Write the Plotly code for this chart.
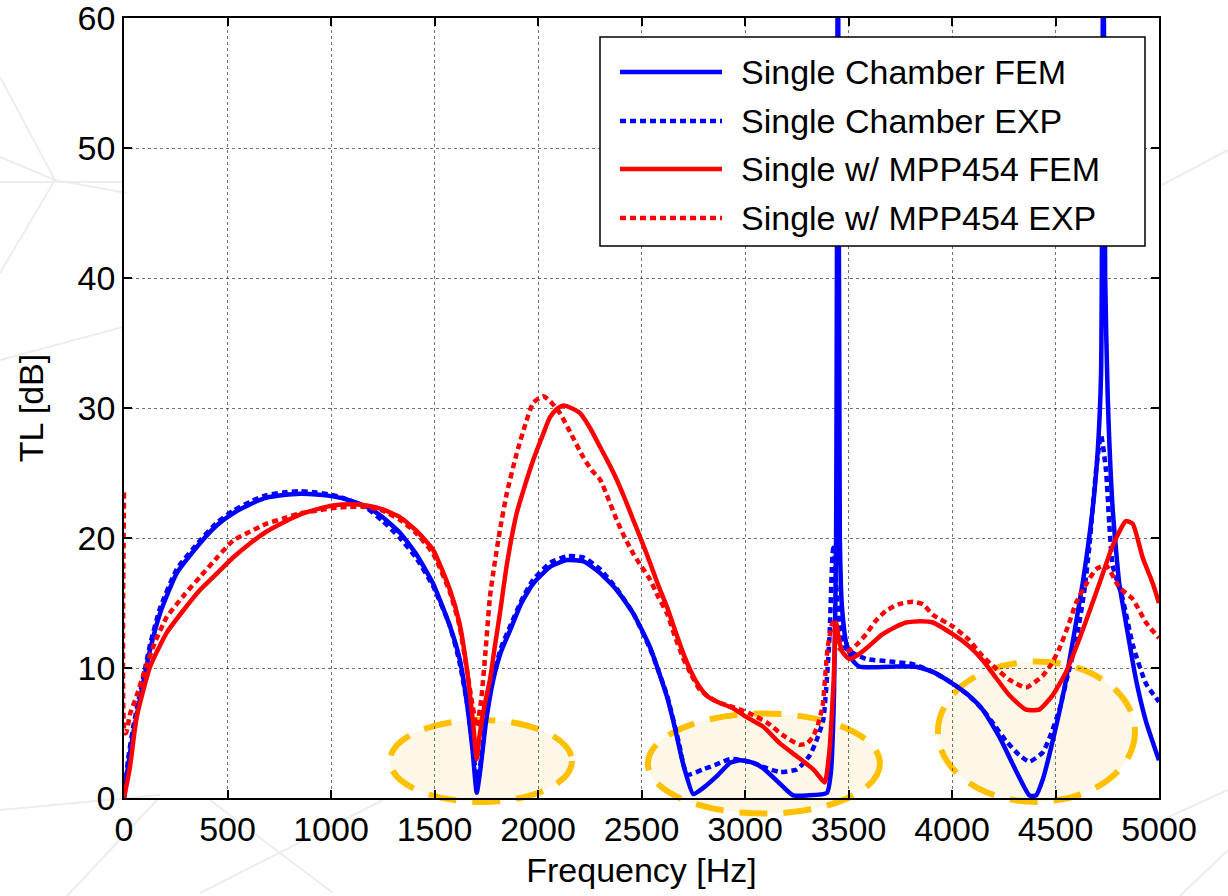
import plotly.graph_objects as go

# ---------------- data ----------------
sc_fem_f = [0, 20, 45, 92, 126, 174, 255, 367, 450, 527, 610, 689, 770, 850, 930, 1010, 1090, 1172, 1250, 1333, 1410,
            1493, 1575, 1620, 1655, 1685, 1704, 1720, 1750, 1784, 1820, 1865, 1920, 1977, 2060, 2140, 2220, 2300,
            2380, 2460, 2541, 2623, 2660, 2700, 2750, 2800, 2865, 2928, 2976, 3040, 3087, 3169, 3232, 3300, 3396,
            3415, 3430, 3440, 3449, 3458, 3464, 3472, 3488, 3520, 3552, 3700, 3826, 3907, 4003, 4080, 4148, 4229,
            4309, 4374, 4406, 4440, 4470, 4510, 4551, 4631, 4680, 4704, 4720, 4731, 4740, 4752, 4776, 4808, 4840,
            4889, 4937, 5000]
sc_fem_tl = [0, 2.5, 5, 8.8, 11.4, 14.2, 17.3, 19.6, 21, 21.9, 22.6, 23.1, 23.3, 23.4, 23.35, 23.2, 22.9, 22.4, 21.6,
             20.4, 18.8, 16.5, 13.2, 10.8, 7.5, 3.5, 0.4, 2, 6, 9.1, 11.2, 12.9, 15, 16.5, 17.8, 18.3, 18.2, 17.3, 16,
             14.2, 11.6, 7.8, 5.5, 2.7, 0.3, 0.8, 1.7, 2.7, 2.9, 2.7, 2.3, 1.1, 0.2, 0.2, 0.4, 2, 8, 20, 70, 20, 16,
             14, 12, 10.6, 10.1, 10.1, 10.1, 9.7, 8.8, 7.9, 6.8, 4.7, 2.1, 0.2, 0.2, 1.5, 3.3, 6, 9.1, 16.5, 22.3,
             26.7, 32.6, 70, 40, 31, 22.3, 16.5, 13.5, 9.1, 5.9, 2.9]

sc_exp_f = [0, 20, 45, 92, 126, 174, 255, 367, 450, 527, 610, 689, 770, 850, 930, 1010, 1090, 1172, 1250, 1333, 1410,
            1493, 1575, 1620, 1655, 1685, 1706, 1725, 1750, 1784, 1820, 1865, 1920, 1977, 2060, 2140, 2220, 2300,
            2380, 2460, 2541, 2623, 2680, 2720, 2797, 2865, 2928, 2990, 3040, 3087, 3169, 3251, 3314, 3347, 3378,
            3407, 3423, 3430, 3440, 3456, 3488, 3585, 3700, 3810, 3907, 4003, 4080, 4148, 4210, 4261, 4325, 4374,
            4438, 4480, 4519, 4560, 4599, 4640, 4664, 4696, 4720, 4744, 4760, 4776, 4825, 4873, 4937, 5000]
sc_exp_tl = [0, 3, 5.5, 9.2, 11.8, 14.6, 17.6, 19.8, 21.2, 22.1, 22.8, 23.3, 23.5, 23.6, 23.5, 23.3, 22.9, 22.3, 21.3,
             20, 18.5, 16.3, 13.2, 10.5, 7.5, 4, 1.2, 3, 6.5, 9.4, 11.5, 13.2, 15.2, 16.8, 18.1, 18.6, 18.5, 17.6,
             16.1, 14.2, 11.5, 7.9, 4.3, 1.8, 2.2, 2.6, 3.0, 2.9, 2.7, 2.4, 2.0, 2.2, 3.3, 4.5, 6.0, 12, 18.8, 19.5,
             16.5, 13.5, 11.5, 10.7, 10.5, 10.3, 9.7, 8.8, 7.9, 6.8, 5.5, 4.4, 3.3, 2.8, 3.5, 5, 6.8, 9.5, 12, 16,
             19.4, 25.2, 27.9, 25.2, 21, 17.9, 15.3, 11.8, 8.8, 7.4]

mpp_fem_f = [0, 29, 61, 126, 206, 290, 367, 450, 527, 610, 689, 770, 850, 930, 1010, 1090, 1172, 1250, 1333,
             1410, 1493, 1575, 1620, 1655, 1685, 1704, 1715, 1740, 1768, 1790, 1816, 1850, 1897, 1940, 1977, 2020,
             2058, 2090, 2122, 2160, 2203, 2250, 2300, 2340, 2380, 2420, 2460, 2500, 2541, 2580, 2623, 2660, 2700,
             2740, 2783, 2820, 2865, 2942, 3010, 3087, 3169, 3251, 3330, 3386, 3400, 3411, 3428, 3440, 3456, 3472,
             3504, 3545, 3585, 3665, 3720, 3778, 3850, 3907, 4003, 4080, 4148, 4210, 4277, 4357, 4422, 4486, 4551,
             4590, 4631, 4712, 4776, 4840, 4873, 4921, 4970, 5000]
mpp_fem_tl = [0, 2.4, 6.2, 10.1, 12.7, 14.5, 16, 17.3, 18.5, 19.6, 20.5, 21.2, 21.8, 22.2, 22.5, 22.6, 22.5,
              22.2, 21.6, 20.6, 19.1, 16, 13.5, 10.1, 6, 3, 4.5, 7, 9.1, 11.5, 14.2, 18, 21.9, 24.2, 26, 27.8, 29.3,
              29.9, 30.2, 30, 29.6, 28.5, 27, 25.8, 24.5, 23, 21.4, 19.8, 18.1, 16.4, 14.7, 13, 11.2, 9.7, 8.5, 7.8,
              7.4, 6.9, 6.2, 5.5, 4.2, 3.2, 2.2, 1.2, 2.5, 4.2, 9, 13.5, 12, 11.2, 10.7, 11, 11.5, 12.6, 13.1, 13.5,
              13.6, 13.5, 12.6, 11.7, 10.6, 9.3, 7.9, 6.8, 6.8, 7.9, 9.7, 11.2, 12.9, 16.5, 19.4, 21.3, 21.1, 18.5,
              16.5, 15]

mpp_exp_f = [0, 3, 10, 30, 60, 100, 150, 206, 290, 367, 450, 527, 610, 689, 770, 850, 930, 1010, 1090, 1172, 1250,
             1333, 1410, 1493, 1575, 1620, 1655, 1685, 1704, 1725, 1745, 1768, 1790, 1816, 1850, 1897, 1940, 1977,
             2025, 2060, 2106, 2160, 2219, 2260, 2300, 2340, 2380, 2420, 2460, 2500, 2541, 2580, 2623, 2660, 2700,
             2740, 2783, 2865, 2942, 3024, 3106, 3186, 3262, 3300, 3327, 3350, 3375, 3399, 3423, 3440, 3456, 3488,
             3540, 3585, 3630, 3681, 3740, 3810, 3860, 3907, 4003, 4080, 4148, 4210, 4277, 4357, 4438, 4480, 4519,
             4560, 4599, 4650, 4696, 4744, 4808, 4873, 4937, 5000]
mpp_exp_tl = [23.5, 5, 5, 6.5, 7.8, 9.8, 12, 13.9, 15.6, 17, 18.5, 19.8, 20.5, 21.1, 21.5, 21.9, 22.1, 22.3, 22.4,
              22.4, 22.1, 21.4, 20.4, 18.8, 15.8, 13.3, 10, 7, 5.5, 7.5, 11, 15.5, 18, 20.6, 23.5, 26.5, 28.8,
              30.4, 30.9, 30.5, 29.6, 28, 26.2, 25.2, 24.5, 23, 21.4, 20, 18.8, 17.8, 16.8, 15.5, 14.2, 12.5, 10.8,
              9.5, 8.3, 7.4, 7.0, 6.5, 5.8, 4.8, 4.1, 4.2, 4.7, 5.5, 7.1, 11.5, 13.5, 12.5, 11.5, 11.2, 11.8, 12.6,
              13.6, 14.4, 14.9, 15.1, 14.9, 14.1, 13.2, 12.2, 10.9, 10, 9.1, 8.5, 9.4, 10.3, 11.5, 13.2, 15, 16.5,
              17.6, 17.9, 16.2, 15.3, 13.5, 12.3]

series_names = ["Single Chamber FEM", "Single Chamber EXP", "Single w/ MPP454 FEM", "Single w/ MPP454 EXP"]
series_colors = ["#0000ff", "#0000ff", "#ff0000", "#ff0000"]
series_dash = ["solid", "6px,4px", "solid", "6px,4px"]

# highlight ellipses (freq from, freq to, TL from, TL to)
ellipses = [(1285, 2164, -0.3, 6.0), (2531, 3652, -1.2, 6.5), (3932, 4884, -0.3, 10.5)]

x_ticks = [0, 500, 1000, 1500, 2000, 2500, 3000, 3500, 4000, 4500, 5000]
y_ticks = [0, 10, 20, 30, 40, 50, 60]
X_MAX, Y_MAX = 5000, 60

FONT = "Liberation Sans, Arial, sans-serif"
FS = 34

FIG_W, FIG_H = 1228, 896
L, R, T, B = 124, 1159, 18, 798   # plot area in page pixels
W, H = R - L, B - T

def px(X): return (X - L) / W
def py(Y): return (B - Y) / H

fig = go.Figure()
all_f = [sc_fem_f, sc_exp_f, mpp_fem_f, mpp_exp_f]
all_tl = [sc_fem_tl, sc_exp_tl, mpp_fem_tl, mpp_exp_tl]
for f, tl, n, c, d in zip(all_f, all_tl, series_names, series_colors, series_dash):
    fig.add_trace(go.Scatter(x=f, y=tl, mode="lines", name=n, showlegend=False,
                             line=dict(color=c, width=4.5, dash=d, shape="spline", smoothing=0.5)))

# faint decorative background lines (page pixels)
bg_lines = [(0, 810, 160, 795), (67, 896, 157, 800), (210, 800, 333, 893), (200, 893, 383, 800),
            (0, 157, 55, 180), (55, 180, 127, 193), (0, 77, 55, 180), (0, 273, 55, 180), (0, 182, 123, 182),
            (0, 360, 123, 327), (1228, 150, 1162, 185), (1162, 820, 1228, 790), (1180, 896, 1228, 850)]
for (xa, ya, xb, yb) in bg_lines:
    fig.add_shape(type="line", xref="paper", yref="paper", x0=px(xa), y0=py(ya), x1=px(xb), y1=py(yb),
                  line=dict(color="#ededed", width=2), layer="below")

# ellipses in paper coordinates (not clipped by the axes)
for (f0, f1, t0, t1) in ellipses:
    fig.add_shape(type="circle", xref="paper", yref="paper",
                  x0=f0 / X_MAX, x1=f1 / X_MAX, y0=t0 / Y_MAX, y1=t1 / Y_MAX,
                  fillcolor="rgb(253,247,232)", line=dict(color="#ffc000", width=6, dash="28px,16px"),
                  layer="below")

# manual legend
fig.add_shape(type="rect", xref="paper", yref="paper", x0=px(600), x1=px(1145), y0=py(246), y1=py(37),
              fillcolor="white", line=dict(color="black", width=1.5), layer="above")
rows = [72, 121, 169, 218]
for yrow, n, c, d in zip(rows, series_names, series_colors, series_dash):
    fig.add_shape(type="line", xref="paper", yref="paper", x0=px(620), x1=px(722), y0=py(yrow), y1=py(yrow),
                  line=dict(color=c, width=4.5, dash=d), layer="above")
    fig.add_annotation(xref="paper", yref="paper", x=px(739), y=py(yrow), text=n, showarrow=False,
                       xanchor="left", yanchor="middle", font=dict(family=FONT, size=FS, color="black"))

axis_common = dict(showline=True, linecolor="black", linewidth=1.5, mirror="ticks", ticks="inside", ticklen=8,
                   tickcolor="black", tickwidth=1.5, showgrid=True, gridcolor="rgba(0,0,0,0.55)", gridwidth=1,
                   griddash="dot", zeroline=False, automargin=False, ticklabeloverflow="allow",
                   tickfont=dict(family=FONT, size=FS, color="black"))

fig.update_xaxes(range=[0, X_MAX], tickvals=x_ticks, ticktext=[str(v) for v in x_ticks],
                 title=dict(text="Frequency [Hz]", font=dict(family=FONT, size=FS, color="black"), standoff=12),
                 **axis_common)
fig.update_yaxes(range=[0, Y_MAX], tickvals=y_ticks, ticktext=[str(v) for v in y_ticks],
                 title=dict(text="TL [dB]", font=dict(family=FONT, size=FS, color="black"), standoff=24),
                 **axis_common)

fig.update_layout(width=FIG_W, height=FIG_H,
                  margin=dict(l=L, r=FIG_W - R, t=T, b=FIG_H - B),
                  paper_bgcolor="white", plot_bgcolor="rgba(0,0,0,0)", showlegend=False,
                  font=dict(family=FONT, size=FS, color="black"))

fig.write_html("out.html", config={"displayModeBar": False},
               post_script="document.body.style.margin='0';document.body.style.overflow='hidden';")
